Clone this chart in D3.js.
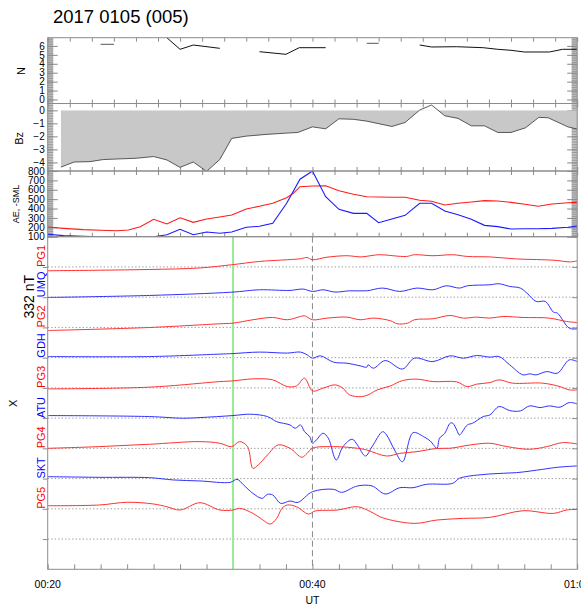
<!DOCTYPE html>
<html>
<head>
<meta charset="utf-8">
<script src="https://cdn.jsdelivr.net/npm/d3@7"></script>
<style>
  body { margin: 0; background: #fff; }
  text { font-family: "Liberation Sans", Arial, Helvetica, sans-serif; }
</style>
</head>
<body>
<div id="chart"></div>
<script>
// time in minutes after 00:00 UT
var title = "2017 0105 (005)";

var nSolid = [
  [[29, 6.92], [30, 5.62], [31, 6.10], [33, 5.73]],
  [[36, 5.35], [38, 5.06], [39, 5.80], [41, 5.80]],
  [[48.1, 6.10], [49, 5.88], [50.9, 5.91], [52.9, 5.80], [54, 5.62], [55, 5.51], [56, 5.32], [57.9, 5.32], [58.9, 5.62], [60, 5.62]]
];
var nFaint = [
  [[24, 6.18], [25, 6.18]],
  [[44.1, 6.29], [45, 6.29]]
];

var bz = [[21, -4.36], [22, -3.97], [23.2, -3.94], [24.2, -3.78], [25.2, -3.74], [26.7, -3.68], [28, -3.55],
  [29, -3.81], [30, -4.38], [31, -3.97], [32, -4.69], [33, -3.78], [33.9, -2.16], [35, -1.98], [36.5, -1.85],
  [38.05, -1.75], [38.9, -1.70], [40, -1.27], [41, -1.42], [42, -0.65], [43.1, -0.69], [44.1, -0.83],
  [46, -1.24], [47, -0.93], [48.1, 0.02], [49, 0.41], [50, -0.42], [51, -0.62], [52, -1.19], [53, -1.19],
  [54, -1.70], [55, -1.70], [56.1, -1.34], [57.1, -0.54], [57.8, -0.57], [59.3, -1.27], [60, -1.44]];

var ae = [[20, 203], [21.2, 189], [22.7, 175], [24, 168], [25.2, 164], [26.1, 171], [27, 207], [28, 285],
  [29, 235], [30, 302], [31, 253], [32, 289], [33, 310], [33.9, 331], [35, 395], [36, 424], [37, 456],
  [38.05, 516], [38.55, 562], [39.06, 633], [40, 640], [41, 643], [42, 590], [43.1, 552], [44.1, 526],
  [46, 520], [47, 520], [48.1, 488], [49, 477], [50, 438], [51, 456], [52, 470], [53, 484], [54, 480],
  [55, 466], [56.05, 445], [57.05, 424], [58.1, 448], [59.3, 462], [60, 466]];

var sml = [[20, 126], [21.2, 111], [22.7, 104], [24, 100], [25.2, 94], [26.1, 94], [27, 100], [28, 100],
  [29, 121], [30, 179], [31, 121], [32, 150], [33, 136], [33.9, 150], [35, 200], [36, 211], [37, 243],
  [38.05, 456], [39.06, 712], [40, 800], [41, 526], [42, 392], [43.1, 349], [44.1, 349], [45, 249],
  [46, 289], [47, 328], [48.1, 456], [49, 456], [50, 374], [51, 334], [52, 285], [53, 221], [54, 207],
  [55, 182], [56.05, 185], [57.05, 185], [58.1, 189], [59.3, 200], [60, 214]];

// magnetometer X traces, nT relative to each station's baseline
var pg1 = [[20, -42], [23.9, -36], [27.7, -28], [31.5, -11], [33.9, 24], [36, 60], [39.1, 90], [39.6, 104],
  [40, 79], [41.1, 107], [42.6, 123], [43.7, 110], [44.5, 126], [45.1, 134], [47.1, 115], [47.7, 134],
  [49.1, 123], [50.6, 134], [51.7, 115], [53.4, 110], [55.4, 88], [57.4, 79], [58.5, 71], [59.4, 55], [60, 66]];
var umq = [[20, -3], [27.7, 19], [33.9, 55], [36, 81], [38.3, 74], [39.3, 89], [40, 63], [40.8, 81],
  [41.7, 56], [42.8, 70], [44.1, 70], [45.3, 100], [46.6, 63], [47.9, 100], [49.1, 81], [50.1, 125],
  [51.1, 100], [51.7, 125], [53.4, 136], [54.1, 147], [54.9, 118], [55.7, 100], [56.2, 45], [56.9, -47],
  [57.6, -47], [58.2, -164], [58.5, -175], [59.4, -340], [60, -348]];
var pg2 = [[20, -34], [27.7, -1], [33, 40], [34, 47], [35.5, 84], [37, 109], [38.1, 84], [39.1, 120],
  [39.4, 128], [40, 84], [41.1, 102], [42.6, 113], [43.6, 84], [44.6, 102], [45.9, 73], [46.4, 40],
  [47.2, 47], [47.7, 84], [49.1, 95], [50.4, 131], [51.4, 102], [52.4, 113], [53.4, 102], [54.4, 120],
  [55.9, 109], [57.9, 102], [59.2, 65], [60, 54]];
var gdh = [[20, 12], [27.7, 12], [33, 39], [34, 45], [36, 61], [38.1, 50], [39.1, 61], [39.6, 31],
  [40, -6], [40.6, 20], [41.6, -50], [42.6, -61], [43.6, -90], [44.1, -105], [44.2, -79], [44.6, -116],
  [45.5, -32], [46.8, -125], [47.7, -6], [49.1, -43], [50.4, 20], [51.4, -6], [52.4, 23], [53.4, 6],
  [54.1, 12], [54.9, -79], [55.9, -189], [56.4, -178], [56.9, -189], [57.7, -153], [58.5, -171],
  [59.4, -24], [60, -43]];
var pg3 = [[20, -11], [27.7, 8], [33, 69], [34, 77], [35.5, 99], [37, 88], [38.1, 14], [38.8, 22],
  [39.4, 107], [40, -33], [40.8, -3], [41.7, 33], [42.3, -3], [42.8, -77], [43.7, -96], [44.2, -77],
  [44.9, -22], [45.9, 22], [46.8, 80], [47.9, 96], [49.1, 69], [50.9, 66], [51.7, 14], [52.4, 41],
  [53.4, 58], [54.1, 88], [55.1, 52], [57.4, 52], [58.7, 14], [59.4, -22], [60, -22]];
var atu = [[20, 28], [27.7, 17], [30.2, -1], [31.5, 6], [34, 28], [35.3, 43], [36.6, 17], [37.3, -39],
  [38.3, -75], [38.7, -111], [39.1, -75], [39.4, -149], [39.8, -204], [40, -276], [40.3, -240],
  [40.8, -166], [41.2, -221], [41.8, -460], [42.3, -314], [43, -232], [43.4, -295], [44, -416],
  [44.5, -314], [45.3, -149], [45.6, -185], [46.2, -350], [46.8, -479], [47.6, -160], [48.4, -204],
  [48.9, -251], [49.4, -331], [49.6, -221], [50, -166], [50.4, -56], [50.6, -56], [50.9, -130],
  [51.1, -185], [51.7, -75], [52.1, -56], [52.9, 17], [53.4, 35], [54.1, 127], [54.9, 83], [55.7, 79],
  [56.4, 134], [57.2, 116], [57.9, 134], [58.7, 120], [59.4, 171], [60, 156]];
var pg4 = [[20, 0], [23.9, 19], [27.7, 45], [31.5, 74], [33, 56], [33.9, 19], [34.5, 74], [35.1, 19],
  [35.5, -219], [35.9, -183], [36.6, -73], [37.4, 37], [38.3, 1], [39.2, -98], [39.6, -54], [40, 1],
  [41.6, 19], [43.4, 1], [44.1, -18], [45.6, -84], [46.6, -55], [47.9, -36], [49.4, -1], [50.4, 1],
  [51.9, 37], [53.4, 56], [54.7, 19], [56.4, -10], [57.7, 19], [58.9, 63], [60, 48]];
var skt = [[20, 21], [23.9, 14], [27.7, 10], [29.5, -15], [31.5, -26], [33.8, -41], [34.3, -8], [34.8, -70],
  [35.5, -162], [36.2, -217], [36.6, -173], [37, -180], [37.6, -272], [38.3, -246], [38.9, -261],
  [40, -144], [41.6, -118], [42.2, -151], [43.4, -81], [44.5, -81], [45.5, -169], [46.6, -100],
  [47.6, -100], [48.6, -63], [50.6, -52], [51.1, 3], [53.4, 51], [55.4, 65], [57.4, 102], [58.5, 124],
  [60, 139]];
var pg5 = [[20, 34], [23.9, 42], [26, 72], [28, 53], [29, 23], [30, -13], [31.5, 67], [33, -13], [34, -13],
  [34.5, 6], [35.5, -50], [36.2, -116], [36.8, -167], [37.3, -105], [37.7, 6], [38.1, 42], [38.8, 23],
  [39.7, -57], [40.2, -24], [41.9, -13], [43.4, 23], [44.4, -32], [45.3, -98], [47.7, -160], [49.4, -123],
  [51.4, -105], [53.4, -94], [55.9, -21], [58.2, -50], [59.2, -13], [60, -6]];

var stations = ["PG1", "UMQ", "PG2", "GDH", "PG3", "ATU", "PG4", "SKT", "PG5"];
var stationColors = ["red", "blue", "red", "blue", "red", "blue", "red", "blue", "red"];
var stationTraces = [pg1, umq, pg2, gdh, pg3, atu, pg4, skt, pg5];
var stepNT = 332;
var markerTime = 34;   // green line
var onsetTime = 40;    // dashed line
var timeLabels = [[20, "00:20"], [40, "00:40"], [60, "01:00"]];

var width = 581, height = 606;
var left = 47.7, right = 577.2;
var topN = 37.7, topBz = 103.5, topAE = 171, topMag = 236.7, bottom = 569.3;
var frame = "#8c8c8c";

var svg = d3.select("#chart").append("svg")
  .attr("width", width).attr("height", height);

var x = d3.scaleLinear().domain([20, 60]).range([left, right]);
var yN = d3.scaleLinear().domain([-0.45, 6.92]).range([topBz, topN]);
var yBz = d3.scaleLinear().domain([-4.66, 0.525]).range([topAE, topBz]);
var yAE = d3.scaleLinear().domain([100, 800]).range([topMag, topAE]);
var yMag = d3.scaleLinear().domain([0, 11 * stepNT]).range([bottom, topMag]);

var defs = svg.append("defs");
function clip(id, y0, y1) {
  defs.append("clipPath").attr("id", id).append("rect")
    .attr("x", left).attr("y", y0).attr("width", right - left).attr("height", y1 - y0);
  return "url(#" + id + ")";
}
var clipN = clip("cN", topN, topBz), clipBz = clip("cBz", topBz, topAE),
    clipAE = clip("cAE", topAE, topMag), clipMag = clip("cMag", topMag, bottom),
    clipBzNeg = clip("cBzNeg", yBz(0), topAE);

svg.append("text").attr("x", 53).attr("y", 22.7)
  .style("font-size", "18.5px").text(title);

// ---- side axes of the three small panels (dense minor ticks look like grey bars)
function sideAxes(scale, minor, major, labels) {
  var r = scale.range();
  svg.append("rect").attr("x", left).attr("y", r[1]).attr("width", 5.5).attr("height", r[0] - r[1])
    .attr("fill", "#c2c2c2");
  svg.append("rect").attr("x", right - 5.5).attr("y", r[1]).attr("width", 5.5).attr("height", r[0] - r[1])
    .attr("fill", "#c2c2c2");
  var g = svg.append("g");
  g.append("g").attr("transform", "translate(" + left + ",0)")
    .call(d3.axisRight(scale).tickValues(minor).tickSize(5.5).tickFormat(""));
  g.append("g").attr("transform", "translate(" + right + ",0)")
    .call(d3.axisLeft(scale).tickValues(minor).tickSize(5.5).tickFormat(""));
  g.selectAll("line").attr("stroke", "#999");
  var gm = svg.append("g");
  gm.append("g").attr("transform", "translate(" + left + ",0)")
    .call(d3.axisRight(scale).tickValues(major).tickSize(10).tickFormat(""));
  gm.append("g").attr("transform", "translate(" + right + ",0)")
    .call(d3.axisLeft(scale).tickValues(major).tickSize(10).tickFormat(""));
  gm.selectAll("line").attr("stroke", "#888");
  var gl = svg.append("g").attr("transform", "translate(" + left + ",0)")
    .call(d3.axisLeft(scale).tickValues(labels).tickSize(0).tickPadding(3).tickFormat(d3.format("d")));
  gl.selectAll("text").style("font-size", "10px").attr("fill", "#000")
    .style("font-family", "'Liberation Sans', Arial, sans-serif");
  svg.selectAll(".domain").remove();
}
sideAxes(yN, d3.range(-0.4, 6.95, 0.2), d3.range(0, 7, 1), d3.range(0, 7, 1));
sideAxes(yBz, d3.range(-4.6, 0.55, 0.2), d3.range(-4, 1, 1), d3.range(-4, 1, 1));
sideAxes(yAE, d3.range(100, 801, 20), d3.range(100, 801, 100), d3.range(100, 801, 100));

// time ticks on the small panels, every 100 s
var tick100s = d3.range(0, 25).map(function(i) { return 20 + i * 5 / 3; });
[[topN, topBz], [topBz, topAE], [topAE, topMag]].forEach(function(p) {
  svg.append("g").attr("transform", "translate(0," + p[0] + ")")
    .call(d3.axisBottom(x).tickValues(tick100s).tickSize(4).tickFormat(""))
    .selectAll("line").attr("stroke", frame);
  svg.append("g").attr("transform", "translate(0," + p[1] + ")")
    .call(d3.axisTop(x).tickValues(tick100s).tickSize(4).tickFormat(""))
    .selectAll("line").attr("stroke", frame);
});
svg.selectAll(".domain").remove();

// ---- N
var lineN = d3.line().x(function(d) { return x(d[0]); }).y(function(d) { return yN(d[1]); });
var gN = svg.append("g").attr("clip-path", clipN);
gN.selectAll(".nsolid").data(nSolid).enter().append("path")
  .attr("d", lineN).attr("fill", "none").attr("stroke", "#111").attr("stroke-width", 1);
gN.selectAll(".nfaint").data(nFaint).enter().append("path")
  .attr("d", lineN).attr("fill", "none").attr("stroke", "#777").attr("stroke-width", 1.2);

// ---- Bz
var areaBz = d3.area().x(function(d) { return x(d[0]); })
  .y0(yBz(0)).y1(function(d) { return yBz(d[1]); });
svg.append("g").attr("clip-path", clipBzNeg).append("path")
  .datum(bz).attr("d", areaBz).attr("fill", "#c8c8c8");
svg.append("g").attr("clip-path", clipBz).append("path")
  .datum(bz)
  .attr("d", d3.line().x(function(d) { return x(d[0]); }).y(function(d) { return yBz(d[1]); }))
  .attr("fill", "none").attr("stroke", "#333").attr("stroke-width", 0.8);

// ---- AE and -SML
var lineAE = d3.line().x(function(d) { return x(d[0]); }).y(function(d) { return yAE(d[1]); });
var gAE = svg.append("g").attr("clip-path", clipAE);
gAE.append("path").datum(ae).attr("d", lineAE).attr("fill", "none").attr("stroke", "#ff1a1a").attr("stroke-width", 1.1);
gAE.append("path").datum(sml).attr("d", lineAE).attr("fill", "none").attr("stroke", "#1a1aff").attr("stroke-width", 1.1);

// ---- magnetometer stack
var levels = d3.range(1, 11).map(function(k) { return k * stepNT; });
var gMag = svg.append("g");
gMag.selectAll(".base").data(levels).enter().append("line")
  .attr("x1", left).attr("x2", right)
  .attr("y1", function(d) { return yMag(d); }).attr("y2", function(d) { return yMag(d); })
  .attr("stroke", "#999").attr("stroke-width", 1).attr("stroke-dasharray", "1.3,2.2");

svg.append("g").attr("transform", "translate(" + left + ",0)")
  .call(d3.axisLeft(yMag).tickValues(levels).tickSize(5).tickFormat(""))
  .selectAll("line").attr("stroke", frame);
svg.append("g").attr("transform", "translate(" + right + ",0)")
  .call(d3.axisLeft(yMag).tickValues(levels).tickSize(5).tickFormat(""))
  .selectAll("line").attr("stroke", frame);
svg.append("g").attr("transform", "translate(0," + bottom + ")")
  .call(d3.axisTop(x).tickValues(d3.range(20, 60.1, 2)).tickSize(5).tickFormat(""))
  .selectAll("line").attr("stroke", frame);
svg.selectAll(".domain").remove();

var gTr = svg.append("g").attr("clip-path", clipMag);
gTr.append("line").attr("x1", x(markerTime)).attr("x2", x(markerTime))
  .attr("y1", topMag).attr("y2", bottom).attr("stroke", "#98ec98").attr("stroke-width", 2);
gTr.append("line").attr("x1", x(onsetTime)).attr("x2", x(onsetTime))
  .attr("y1", topMag).attr("y2", bottom).attr("stroke", "#888")
  .attr("stroke-dasharray", "6,3.5").attr("stroke-width", 1);

stationTraces.forEach(function(tr, k) {
  var base = (10 - k) * stepNT;
  var line = d3.line().curve(d3.curveCatmullRom.alpha(0.5))
    .x(function(d) { return x(d[0]); })
    .y(function(d) { return yMag(base + d[1]); });
  gTr.append("path").datum(tr).attr("d", line).attr("fill", "none")
    .attr("stroke", stationColors[k] == "red" ? "#ff3030" : "#3030ff").attr("stroke-width", 1);
  svg.append("text")
    .attr("transform", "translate(40.7," + yMag(base) + ") rotate(-90)")
    .attr("dy", "0.36em").attr("text-anchor", "start")
    .attr("fill", stationColors[k]).style("font-size", "11px").text(stations[k]);
});

// ---- frames
function box(y0, y1) {
  svg.append("rect").attr("x", left).attr("y", y0).attr("width", right - left).attr("height", y1 - y0)
    .attr("fill", "none").attr("stroke", frame).attr("stroke-width", 1);
}
box(topN, topBz); box(topBz, topAE); box(topAE, topMag);
box(topMag, bottom);

// ---- labels
function vlabel(txt, cx, cy, size) {
  svg.append("text").attr("transform", "translate(" + cx + "," + cy + ") rotate(-90)")
    .attr("dy", "0.36em").attr("text-anchor", "middle").style("font-size", size + "px").text(txt);
}
vlabel("N", 21, 71, 11);
vlabel("Bz", 19.5, 138.3, 11);
vlabel("AE, -SML", 15.5, 204, 9);
vlabel("332 nT", 29, 296.7, 14);
vlabel("X", 13.3, 403.3, 11);

timeLabels.forEach(function(t) {
  svg.append("text").attr("x", x(t[0])).attr("y", 588.3).attr("text-anchor", "middle")
    .style("font-size", "10.5px").text(t[1]);
});
svg.append("text").attr("x", x(40)).attr("y", 604).attr("text-anchor", "middle")
  .style("font-size", "10.5px").text("UT");
</script>
</body>
</html>
